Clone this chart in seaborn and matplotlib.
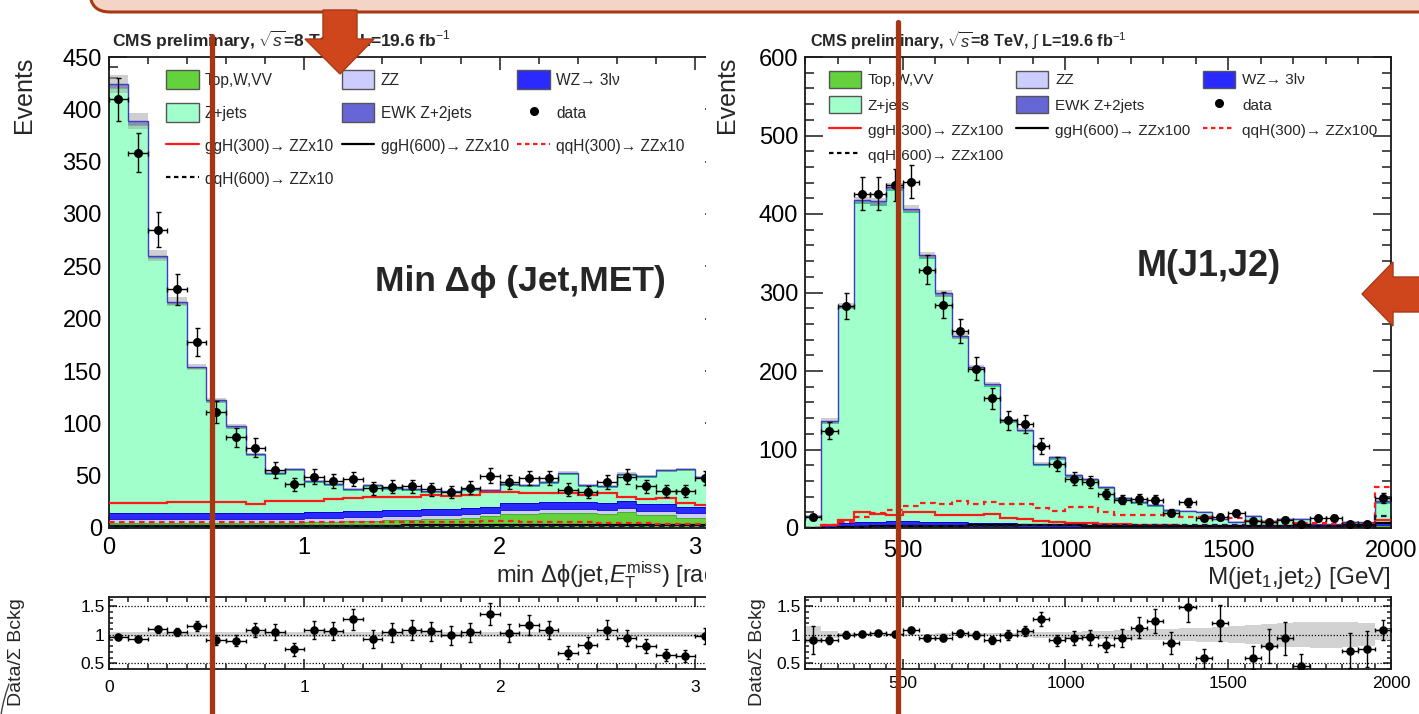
import numpy as np
import matplotlib
matplotlib.use("Agg")
import matplotlib.pyplot as plt
import seaborn as sns
from matplotlib.patches import Rectangle, FancyBboxPatch, Polygon, Patch
from matplotlib.lines import Line2D
from matplotlib.ticker import MultipleLocator
from matplotlib.transforms import Affine2D

sns.set_theme(style="ticks")
plt.rcParams['font.family'] = ['Liberation Sans', 'DejaVu Sans']
plt.rcParams['mathtext.fontset'] = 'custom'
plt.rcParams['mathtext.rm'] = 'Liberation Sans'
plt.rcParams['mathtext.it'] = 'Liberation Sans:italic'
plt.rcParams['mathtext.bf'] = 'Liberation Sans:bold'
plt.rcParams['mathtext.sf'] = 'Liberation Sans'

# ---------------- min delta-phi(jet, MET): 31 bins of 0.1 rad ----------------
dphi_edges = [0.0, 0.1, 0.2, 0.3, 0.4, 0.5, 0.6, 0.7, 0.8, 0.9, 1.0, 1.1, 1.2, 1.3, 1.4, 1.5,
              1.6, 1.7, 1.8, 1.9, 2.0, 2.1, 2.2, 2.3, 2.4, 2.5, 2.6, 2.7, 2.8, 2.9, 3.0, 3.1]
dphi_data = [409.5, 358.6, 285, 228, 178, 111, 86.6, 76.8, 55.4, 41.7, 49, 45, 47, 37.9, 39.5, 40,
             37, 34.7, 38.5, 50, 43.6, 48, 48, 36.5, 34.1, 44, 49, 40, 35.5, 35.5, 47.5]
dphi_top = [5, 5, 5, 5, 5, 5, 5, 5, 5, 5, 6, 6, 7, 7, 8, 8, 9, 9, 10, 11, 13, 13, 14, 14, 14, 13,
            15, 12, 12, 10, 10]
dphi_zz = [3.5, 3.5, 3.5, 3.5, 3.5, 3.5, 3.5, 3.5, 3.5, 3.5, 3.5, 3.5, 3.5, 3.5, 3.5, 3.5, 3.5,
           3.5, 3.5, 3.5, 4, 4, 4, 4, 4, 4, 4, 4, 4, 4, 4]
dphi_wz = [6, 6, 6, 6, 6, 6, 6, 6, 6, 6, 6, 6, 6, 6, 6, 6, 6, 6, 6, 6, 6.5, 6.5, 6.5, 6.5, 6.5,
           6.5, 6.5, 6.5, 6.5, 6.5, 6.5]
dphi_zjets = [405.5, 371, 243, 199.5, 138, 106.3, 81.5, 55, 37.5, 40.5, 28.5, 25.5, 19.5, 23.5,
              19.5, 18.5, 15.5, 15.5, 16.5, 15, 17.5, 16.5, 18.5, 27.5, 16, 16, 25.5, 26.5, 31.5,
              34.5, 27]
dphi_ewk = [4, 3.5, 2.5, 2, 1.5, 1.2, 1, 1, 1, 1, 1, 1, 1, 1, 1, 1, 1, 1, 1, 1, 1, 1, 1, 1, 1, 1,
            1, 1, 1, 1, 1]
dphi_ggH300 = [24, 24, 24, 25, 25, 25, 25, 23, 26, 26, 26, 28, 29, 30, 30, 30, 31.5, 30.5, 31.5,
               34.7, 34.7, 33, 33, 33, 31.5, 33, 29.3, 27.4, 28.4, 23.5, 22]
dphi_ggH600 = [2, 2, 2, 2, 2, 2, 2, 2, 2, 2, 2, 2, 2, 2, 2, 3, 3, 3, 3, 3, 3, 3, 3, 3, 3, 3, 3, 3,
               3, 3, 3]
dphi_qqH300 = [6, 6, 6, 6, 6, 6, 6, 6, 6, 6, 6, 6, 6, 6, 6, 6, 6, 6, 6, 7, 7, 6, 6, 6, 6, 5, 5, 5,
               4, 4, 4]
dphi_qqH600 = [1.5] * 31
dphi_unc = [0.04] * 31

# ---------------- M(jet1, jet2): 36 bins of 50 GeV ----------------
mjj_edges = [200, 250, 300, 350, 400, 450, 500, 550, 600, 650, 700, 750, 800, 850, 900, 950, 1000,
             1050, 1100, 1150, 1200, 1250, 1300, 1350, 1400, 1450, 1500, 1550, 1600, 1650, 1700,
             1750, 1800, 1850, 1900, 1950, 2000]
mjj_data = [13.5, 124, 283, 426, 426, 437, 441, 329, 284, 251, 203, 165, 137, 133, 104, 81, 63, 59,
            43, 36, 37, 36, 19.5, 32.7, 12.3, 14.4, 18.7, 9.3, 7.2, 10.6, 5.5, 12.2, 12.6, 5.5,
            5.5, 38]
mjj_top = [0.3, 0.8, 1.5, 2, 2, 2, 2, 1.8, 1.6, 1.4, 1.2, 1, 1, 0.9, 0.8, 0.7, 0.6, 0.5, 0.5, 0.4,
           0.4, 0.3, 0.3, 0.3, 0.3, 0.2, 0.2, 0.2, 0.2, 0.2, 0.2, 0.2, 0.2, 0.2, 0.2, 2]
mjj_zz = [0.3, 1, 1.5, 2, 2, 2, 2, 1.8, 1.6, 1.4, 1.2, 1, 1, 0.9, 0.8, 0.7, 0.6, 0.5, 0.5, 0.4,
          0.4, 0.3, 0.3, 0.3, 0.3, 0.2, 0.2, 0.2, 0.2, 0.2, 0.2, 0.2, 0.2, 0.2, 0.2, 2]
mjj_wz = [0.5, 2, 3, 4, 4, 4.5, 4.5, 4.5, 4.5, 4.5, 4, 4, 4, 3.5, 3.5, 3, 3, 3, 3, 2.5, 2.5, 2.5,
          2, 2, 2, 2, 2, 2, 1.5, 1.5, 1.5, 1.5, 1.5, 1.5, 1.5, 4]
mjj_zjets = [13.4, 130.2, 274, 406, 404, 422.5, 394.5, 336.4, 288.3, 234.7, 196.1, 174.5, 129,
             117.7, 75.4, 84.1, 61.3, 56.8, 47, 33.7, 28.7, 25.1, 19.6, 18.6, 17.7, 9, 5.1, 12.5,
             6.6, 8.9, 9.6, 2.2, 2.2, 5.3, 5.1, 24]
mjj_ewk = [0.5, 2, 3, 4, 4, 4, 4, 3.5, 3, 3, 2.5, 2.5, 2, 2, 1.5, 1.5, 1.5, 1.2, 1, 1, 1, 0.8, 0.8,
           0.8, 0.7, 0.6, 0.5, 0.6, 0.5, 0.5, 0.5, 0.4, 0.4, 0.4, 0.4, 3]
mjj_ggH300 = [0, 4, 10, 21, 18, 17, 20, 21, 17, 16, 17, 18, 13, 11, 9, 8, 6, 6, 5, 5, 4, 4, 4, 3,
              3, 3, 3, 2, 2, 2, 2, 2, 2, 2, 2, 10]
mjj_ggH600 = [0, 0, 1, 1, 2, 2, 3, 3, 3, 3, 4, 4, 4, 4, 4, 4, 4, 3, 3, 3, 3, 3, 3, 3, 2, 2, 2, 2,
              2, 2, 2, 2, 2, 2, 2, 6]
mjj_qqH300 = [0, 4, 8, 14, 19, 23, 28, 32, 31, 34, 31, 33, 31, 31, 25, 22, 27, 27, 21, 17, 17, 16,
              16, 14, 14, 14, 13, 9, 8, 7, 6, 6, 5, 5, 5, 52]
mjj_qqH600 = [0, 0, 0, 1, 1, 1, 2, 2, 2, 3, 3, 3, 3, 4, 4, 4, 4, 4, 4, 4, 4, 4, 4, 4, 4, 4, 4, 3,
              3, 3, 3, 3, 3, 3, 3, 15]
mjj_unc = [0.15, 0.06, 0.03, 0.02, 0.02, 0.02, 0.02, 0.02, 0.03, 0.03, 0.03, 0.03, 0.03, 0.04,
           0.05, 0.05, 0.05, 0.06, 0.07, 0.08, 0.09, 0.1, 0.1, 0.11, 0.12, 0.13, 0.15, 0.17, 0.19,
           0.21, 0.22, 0.23, 0.23, 0.22, 0.2, 0.1]

C_TOP, C_ZZ, C_WZ, C_ZJ, C_EWK = '#64d23c', '#ccccff', '#2a2aff', '#a0ffca', '#6666d6'
C_OUT = '#3c3cc4'
C_SLIDE = '#d0461c'
C_LINE = '#a83512'

W, H = 1419, 714
fig = plt.figure(figsize=(W / 100, H / 100), dpi=100)
fig.patch.set_facecolor('white')
# pixel coordinates with the origin at the top-left corner
pix = Affine2D().scale(0.01, -0.01).translate(0, H / 100) + fig.dpi_scale_trans


def frame(x0, y0, x1, y1):
    return [x0 / W, 1 - y1 / H, (x1 - x0) / W, (y1 - y0) / H]


axL = fig.add_axes(frame(108.7, 57, 722.8, 528), zorder=0)
axLr = fig.add_axes(frame(108.7, 597, 722.8, 669), zorder=0)
axR = fig.add_axes(frame(805, 57, 1391, 528), zorder=2)
axRr = fig.add_axes(frame(805, 597, 1391, 669), zorder=2)


def draw_main(ax, edges, layers, data, unc, signals):
    edges = np.asarray(edges, float)
    centers = 0.5 * (edges[1:] + edges[:-1])
    half = 0.5 * np.diff(edges)
    base = np.zeros(len(centers))
    for vals, col in layers:
        top = base + np.asarray(vals, float)
        ax.stairs(top, edges, baseline=base, fill=True, color=col, lw=0, zorder=1)
        ax.stairs(top, edges, baseline=None, color=sns.set_hls_values(col, l=0.4), lw=0.6, zorder=1.5)
        base = top
    total = base
    rel = np.asarray(unc, float) * 0.5
    ax.stairs(total * (1 + rel), edges, baseline=total * (1 - rel), fill=True,
              color='#a8a8a8', alpha=0.55, lw=0, zorder=2)
    ax.stairs(total, edges, baseline=None, color=C_OUT, lw=1.0, zorder=2.5)
    for vals, col, ls in signals:
        ax.stairs(np.asarray(vals, float), edges, baseline=None, color=col, lw=1.6, ls=ls, zorder=3)
    d = np.asarray(data, float)
    ax.errorbar(centers, d, yerr=np.sqrt(d), xerr=half, fmt='none', ecolor='black',
                elinewidth=1.0, capsize=1.8, capthick=1.0, zorder=4)
    sns.scatterplot(x=centers, y=d, ax=ax, color='black', s=42, linewidth=0, zorder=5, legend=False)
    return total


def draw_ratio(ax, edges, data, total, unc):
    edges = np.asarray(edges, float)
    centers = 0.5 * (edges[1:] + edges[:-1])
    half = 0.5 * np.diff(edges)
    d = np.asarray(data, float)
    r = d / total
    rerr = np.sqrt(d) / total
    rel = np.asarray(unc, float)
    ax.stairs(1 + rel, edges, baseline=1 - rel, fill=True, color='#d2d2d2', lw=0, zorder=1)
    for yv in (0.5, 1.0, 1.5):
        ax.axhline(yv, color='black', lw=0.9, ls=(0, (1, 1.5)), zorder=2)
    ax.errorbar(centers, r, yerr=rerr, xerr=half, fmt='none', ecolor='black', elinewidth=1.0,
                capsize=1.5, capthick=1.0, zorder=3)
    sns.scatterplot(x=centers, y=r, ax=ax, color='black', s=38, linewidth=0, zorder=4, legend=False)


def style(ax, xmaj, xmin, ymaj, ymin, ylen, xlen, lsize, xpad, ypad):
    ax.set_facecolor('white')
    for s in ax.spines.values():
        s.set_linewidth(1.3)
        s.set_color('#1a1a1a')
    ax.xaxis.set_major_locator(MultipleLocator(xmaj))
    ax.xaxis.set_minor_locator(MultipleLocator(xmin))
    ax.yaxis.set_major_locator(MultipleLocator(ymaj))
    ax.yaxis.set_minor_locator(MultipleLocator(ymin))
    ax.tick_params(which='both', direction='in', top=True, right=True, color='#1a1a1a',
                   width=1.1, labelsize=lsize, labelcolor='black')
    ax.tick_params(axis='y', which='major', length=ylen[0], pad=ypad)
    ax.tick_params(axis='y', which='minor', length=ylen[1])
    ax.tick_params(axis='x', which='major', length=xlen[0], pad=xpad)
    ax.tick_params(axis='x', which='minor', length=xlen[1])
    ax.set_xlabel('')
    ax.set_ylabel('')


# ---------------- left: min delta-phi ----------------
totL = draw_main(axL, dphi_edges,
                 [(dphi_top, C_TOP), (dphi_zz, C_ZZ), (dphi_wz, C_WZ), (dphi_zjets, C_ZJ),
                  (dphi_ewk, C_EWK)],
                 dphi_data, dphi_unc,
                 [(dphi_ggH300, '#ff1a1a', '-'), (dphi_ggH600, 'black', '-'),
                  (dphi_qqH300, '#ff1a1a', (0, (2.5, 2))), (dphi_qqH600, '#151540', (0, (2.5, 2)))])
axL.set_xlim(0, np.pi)
axL.set_ylim(0, 450)
style(axL, 1, 0.2, 50, 10, (13, 6.5), (9, 5), 17, 6.5, 5)
draw_ratio(axLr, dphi_edges, dphi_data, totL, dphi_unc)
axLr.set_xlim(0, np.pi)
axLr.set_ylim(0.4, 1.66)
style(axLr, 1, 0.1, 0.5, 0.1, (6, 3), (7, 3.5), 12.5, 8, 3)
axLr.set_yticks([0.5, 1.0, 1.5], ['0.5', '1', '1.5'])

# ---------------- right: M(jet1, jet2) ----------------
totR = draw_main(axR, mjj_edges,
                 [(mjj_top, C_TOP), (mjj_zz, C_ZZ), (mjj_wz, C_WZ), (mjj_zjets, C_ZJ),
                  (mjj_ewk, C_EWK)],
                 mjj_data, mjj_unc,
                 [(mjj_ggH300, '#ff1a1a', '-'), (mjj_ggH600, 'black', '-'),
                  (mjj_qqH300, '#ff1a1a', (0, (2.5, 2))), (mjj_qqH600, '#151540', (0, (2.5, 2)))])
axR.set_xlim(200, 2000)
axR.set_ylim(0, 600)
style(axR, 500, 100, 100, 20, (13, 6.5), (9, 5), 17, 8.5, 5)
draw_ratio(axRr, mjj_edges, mjj_data, totR, mjj_unc)
axRr.set_xlim(200, 2000)
axRr.set_ylim(0.4, 1.66)
style(axRr, 500, 50, 0.5, 0.1, (6, 3), (7, 3.5), 12.5, 5, 3)
axRr.set_yticks([0.5, 1.0, 1.5], ['0.5', '1', '1.5'])

# ---------------- legends ----------------
def legend_entries(scale):
    lab = [f'ggH(300)\u2192 ZZx{scale}', f'ggH(600)\u2192 ZZx{scale}',
           f'qqH(300)\u2192 ZZx{scale}', f'qqH(600)\u2192 ZZx{scale}']
    pe = dict(edgecolor='#555555', linewidth=1.0)
    h = {
        'Top,W,VV': Patch(facecolor=C_TOP, **pe),
        'Z+jets': Patch(facecolor=C_ZJ, **pe),
        lab[0]: Line2D([], [], color='#ff1a1a', lw=1.6),
        lab[3]: Line2D([], [], color='black', lw=1.6, ls=(0, (2, 1.6))),
        'ZZ': Patch(facecolor=C_ZZ, **pe),
        'EWK Z+2jets': Patch(facecolor=C_EWK, **pe),
        lab[1]: Line2D([], [], color='black', lw=1.6),
        'WZ\u2192 3l\u03bd': Patch(facecolor=C_WZ, **pe),
        'data': Line2D([], [], color='black', marker='o', ms=5.5, ls='none'),
        lab[2]: Line2D([], [], color='#ff1a1a', lw=1.6, ls=(0, (2, 1.6))),
    }
    return list(h.values()), list(h.keys())


hL, lL = legend_entries(10)
axL.legend(hL, lL, ncol=3, loc='upper left', bbox_to_anchor=(166, 70), bbox_transform=pix,
           frameon=False, fontsize=11.2, handlelength=2.1, handleheight=1.5,
           labelspacing=0.92, columnspacing=0.55, handletextpad=0.4, borderpad=0,
           borderaxespad=0)
hR, lR = legend_entries(100)
axR.legend(hR, lR, ncol=3, loc='upper left', bbox_to_anchor=(829, 71), bbox_transform=pix,
           frameon=False, fontsize=11.0, handlelength=2.1, handleheight=1.3,
           labelspacing=0.56, columnspacing=0.85, handletextpad=0.45, borderpad=0,
           borderaxespad=0)

# ---------------- axis titles and headers ----------------
head = r'CMS preliminary, $\sqrt{s}$=8 TeV, $\int$ L=19.6 fb$^{-1}$'
axL.text(112, 47, head, transform=pix, fontsize=12.5, fontweight='bold', ha='left', va='baseline')
axR.text(810, 47, head, transform=pix, fontsize=11.7, fontweight='bold', ha='left', va='baseline')

axL.text(24, 57, 'Events', transform=pix, fontsize=18, rotation=90, ha='center', va='top')
axR.text(727, 57, 'Events', transform=pix, fontsize=18, rotation=90, ha='center', va='top')
axLr.text(17, 598, 'Data/\u03a3 Bckg', transform=pix, fontsize=14, rotation=90, ha='center', va='top')
axRr.text(757, 598, 'Data/\u03a3 Bckg', transform=pix, fontsize=14, rotation=90, ha='center', va='top')

axL.text(722.8, 582, 'min \u0394\u03d5(jet,$E_{\\mathrm{T}}^{\\mathrm{miss}}$) [rad]', transform=pix,
         fontsize=17, ha='right', va='baseline')
axR.text(1391, 584, r'M(jet$_{1}$,jet$_{2}$) [GeV]', transform=pix, fontsize=17.5,
         ha='right', va='baseline')

axL.text(375, 282, 'Min \u0394\u03d5 (Jet,MET)', transform=pix, fontsize=25.5, fontweight='bold',
         ha='left', va='center')
axR.text(1137, 266, 'M(J1,J2)', transform=pix, fontsize=26, fontweight='bold',
         ha='left', va='center')

# ---------------- slide overlay ----------------
fig.add_artist(Rectangle((706, 14), 720, 710, transform=pix, facecolor='white',
                         edgecolor='none', zorder=1))
fig.add_artist(FancyBboxPatch((90, -40), 1400, 52, boxstyle='round,pad=0,rounding_size=20',
                              transform=pix, facecolor='#f4d4c6', edgecolor='#a63a17',
                              lw=2.2, zorder=8))
fig.add_artist(Line2D([212, 212], [36, 714], transform=pix, color=C_LINE, lw=3.8, zorder=9))
fig.add_artist(Line2D([898, 898], [22, 714], transform=pix, color=C_LINE, lw=3.8, zorder=9))
fig.add_artist(Polygon([(323, 10), (357, 10), (357, 39), (374, 39), (340, 74), (305, 39), (323, 39)],
                       closed=True, transform=pix, facecolor=C_SLIDE, edgecolor='#a63a17',
                       lw=1.0, zorder=10))
fig.add_artist(Polygon([(1425, 277), (1393, 277), (1393, 262), (1362, 294), (1393, 326),
                        (1393, 312), (1425, 312)],
                       closed=True, transform=pix, facecolor=C_SLIDE, edgecolor='#a63a17',
                       lw=1.0, zorder=10))
fig.add_artist(Line2D([9, 6, 3.5, 2, 1.2], [684, 693, 702, 709, 714], transform=pix,
                      color='#444444', lw=1.0, zorder=9))

fig.savefig('out.png', dpi=100, facecolor='white')
